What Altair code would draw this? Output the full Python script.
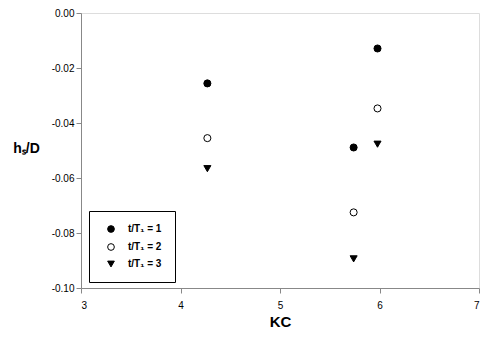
import altair as alt
import pandas as pd

kc = [4.27, 5.74, 5.98]
t1 = [-0.0256, -0.0489, -0.0129]
t2 = [-0.0455, -0.0725, -0.0347]
t3 = [-0.0566, -0.0894, -0.0477]
series_names = ["t/T\u2081 = 1", "t/T\u2081 = 2", "t/T\u2081 = 3"]

rows = []
for name, vals in zip(series_names, [t1, t2, t3]):
    for x, y in zip(kc, vals):
        rows.append({"KC": x, "hs": y, "series": name})
df = pd.DataFrame(rows)

FONT = "Liberation Sans"

leg = dict(title=None, orient="none", legendX=8, legendY=198,
           strokeColor="black", padding=13, rowPadding=6,
           symbolSize=45, symbolStrokeColor="black", symbolStrokeWidth=1,
           labelFontSize=10, labelFont=FONT, labelFontWeight="bold",
           labelOffset=12, symbolOffset=4)

chart = alt.Chart(df).mark_point(filled=True, size=50, strokeWidth=1, opacity=1).encode(
    x=alt.X("KC:Q", scale=alt.Scale(domain=[3, 7], nice=False, zero=False),
            axis=alt.Axis(values=[3, 4, 5, 6, 7], format="d", title="KC", grid=False,
                          labelPadding=7, titleFontSize=15, titlePadding=4)),
    y=alt.Y("hs:Q", scale=alt.Scale(domain=[-0.1, 0], nice=False),
            axis=alt.Axis(values=[0, -0.02, -0.04, -0.06, -0.08, -0.1], grid=False,
                          labelExpr="(datum.value < 0 ? '-' : '') + format(abs(datum.value), '.2f')",
                          labelPadding=2,
                          title="h\u209b/D", titleAngle=0, titleAlign="center", titleBaseline="middle",
                          titleX=-55, titleY=135, titleFontSize=14)),
    shape=alt.Shape("series:N", scale=alt.Scale(domain=series_names, range=["circle", "circle", "triangle-down"]),
                    legend=alt.Legend(**leg)),
    fill=alt.Fill("series:N", scale=alt.Scale(domain=series_names, range=["black", "white", "black"]),
                  legend=alt.Legend(**leg)),
    stroke=alt.Stroke("series:N", scale=alt.Scale(domain=series_names, range=["black", "black", "black"]),
                      legend=alt.Legend(**leg)),
).properties(
    width=398, height=275,
    autosize=alt.AutoSizeParams(type="none"),
    padding={"left": 73, "top": 5, "right": 2, "bottom": 48},
).configure_view(stroke="black", strokeWidth=1).configure_axis(
    domainColor="black", tickColor="black", tickSize=4, labelColor="black", titleColor="black",
    labelFont=FONT, titleFont=FONT, labelFontWeight="bold", titleFontWeight="bold", labelFontSize=10,
).configure(background="white")

chart.save("out.html", embed_options={"renderer": "svg", "actions": False})
